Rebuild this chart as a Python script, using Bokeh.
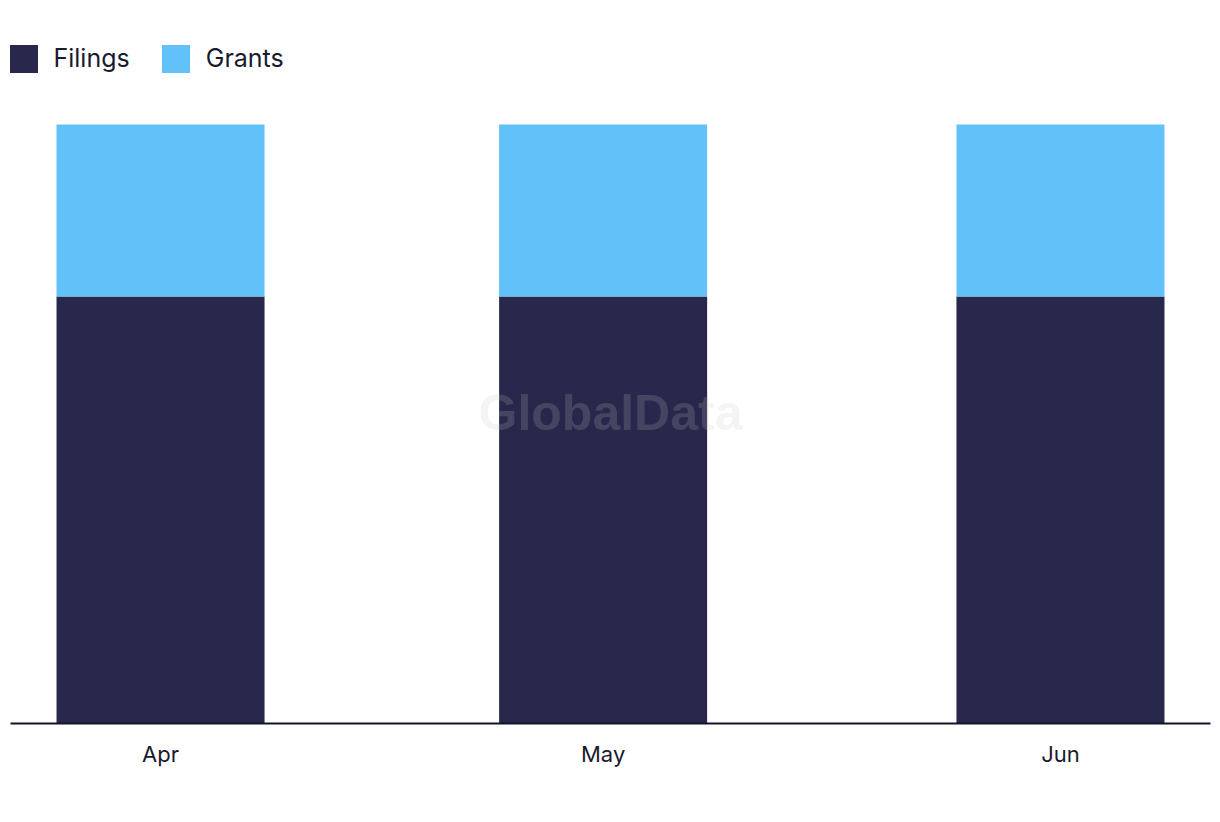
from datetime import datetime, timedelta
from bokeh.plotting import figure
from bokeh.models import ColumnDataSource, Range1d, FixedTicker, DatetimeTickFormatter, Legend, Label
from bokeh.embed import file_html
from bokeh.resources import INLINE

months = ["Apr", "May", "Jun"]
dates = [datetime(2024, 4, 1), datetime(2024, 5, 1), datetime(2024, 6, 1)]
filings = [71.3, 71.3, 71.3]
grants = [28.7, 28.7, 28.7]
series = ["Filings", "Grants"]
colors = ["#27284b", "#62c1f8"]

src = ColumnDataSource(dict(x=dates, Filings=filings, Grants=grants))

FRAME_H = 693
pad = timedelta(days=10.17)
p = figure(width=1220, height=822, output_backend="svg", toolbar_location=None,
           x_axis_type="datetime",
           x_range=Range1d(dates[0] - pad, dates[-1] + pad),
           y_range=Range1d(0, 100 * FRAME_H / 599),
           min_border_left=10, min_border_right=10, min_border_top=30, min_border_bottom=99)

rs = p.vbar_stack(series, x="x", width=timedelta(days=14.1).total_seconds() * 1000,
                  source=src, color=colors, line_color=None)

p.yaxis.visible = False
p.grid.visible = False
p.outline_line_color = None
p.background_fill_color = "white"
p.border_fill_color = "white"

ax = p.xaxis[0]
ax.ticker = FixedTicker(ticks=[d.timestamp() * 1000 for d in dates])
fmt = "%b"
ax.formatter = DatetimeTickFormatter(microseconds=fmt, milliseconds=fmt, seconds=fmt, minsec=fmt,
                                     minutes=fmt, hourmin=fmt, hours=fmt, days=fmt, months=fmt, years=fmt)
ax.axis_line_width = 2
ax.axis_line_color = "#141428"
ax.major_tick_line_color = None
ax.minor_tick_line_color = None
ax.major_label_text_font = "Inter"
ax.major_label_text_font_size = "22px"
ax.major_label_text_color = "#1a1a2e"
ax.major_label_standoff = 11

legend = Legend(items=[(s, [r]) for s, r in zip(series, rs)], location=(-4.5, 647.5),
                orientation="horizontal", glyph_width=35, glyph_height=35,
                label_standoff=13, spacing=28, padding=0, margin=0,
                border_line_color=None, background_fill_alpha=0,
                label_text_font="Inter", label_text_font_size="25px",
                label_text_color="#1a1a2e")
p.add_layout(legend)

wm = Label(x=600, y=311, x_units="screen", y_units="screen", text="GlobalData",
           text_align="center", text_baseline="middle", text_font="Liberation Sans",
           text_font_style="bold", text_font_size="50px", text_color="#c5c5c5", text_alpha=0.19)
p.add_layout(wm)

open("out.html", "w").write(file_html(p, INLINE))
